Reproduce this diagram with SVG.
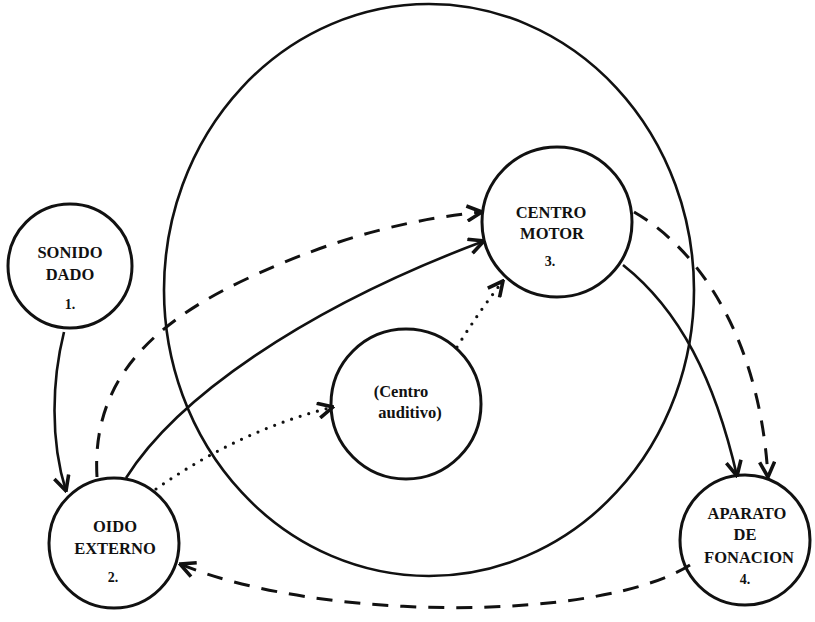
<svg xmlns="http://www.w3.org/2000/svg" width="815" height="622" viewBox="0 0 815 622">
<style>
.node{fill:none;stroke:#111;stroke-width:3}
.big{fill:none;stroke:#111;stroke-width:2.6}
.lbl{font-family:"Liberation Serif","Times New Roman",serif;font-weight:bold;font-size:16.5px;fill:#111;text-anchor:middle}
.num{font-family:"Liberation Serif","Times New Roman",serif;font-weight:bold;font-size:14px;fill:#111;text-anchor:middle}
.aud{font-family:"Liberation Serif","Times New Roman",serif;font-weight:bold;font-size:16.5px;fill:#111;text-anchor:middle}
.solid{fill:none;stroke:#111;stroke-width:2.6;marker-end:url(#arr)}
.dash{fill:none;stroke:#111;stroke-width:3;stroke-dasharray:16 12;marker-end:url(#arr)}
.dot{fill:none;stroke:#111;stroke-width:3.2;stroke-linecap:round;stroke-dasharray:0 9;marker-end:url(#arr)}
</style>
<defs>
<marker id="arr" viewBox="0 0 12 12" refX="11" refY="6" markerWidth="18" markerHeight="18" markerUnits="userSpaceOnUse" orient="auto">
<path d="M1,1 L11,6 L1,11" fill="none" stroke="#111" stroke-width="2.4" stroke-dasharray="none"/>
</marker>
</defs>
<ellipse id="big-circle" class="big" cx="429" cy="290" rx="265" ry="286"/>
<g id="connectors">
<path class="solid" d="M64 332 C52 380 50 440 66 491"/>
<path class="dash" d="M97 477 C92 390 140 330 240 282 S420 218 482 212"/>
<path class="solid" d="M126 478 C175 400 300 310 484 241"/>
<path class="dot" d="M156 489 Q240 430 333 407"/>
<path class="dot" d="M457 347 Q480 310 503 281"/>
<path class="dash" d="M634 212 C700 250 760 340 768 477"/>
<path class="solid" d="M623 265 C680 310 715 380 737 476"/>
<path class="dash" d="M690 565 C600 622 320 622 180 564"/>
</g>
<g id="n1">
<circle class="node" cx="70" cy="266" r="62"/>
<text class="lbl" x="70" y="258">SONIDO</text>
<text class="lbl" x="70" y="280">DADO</text>
<text class="num" x="70" y="309">1.</text>
</g>
<g id="n2">
<circle class="node" cx="114" cy="543" r="65"/>
<text class="lbl" x="115" y="532">OIDO</text>
<text class="lbl" x="115" y="554">EXTERNO</text>
<text class="num" x="113" y="582">2.</text>
</g>
<g id="n3">
<circle class="node" cx="557" cy="222" r="75"/>
<text class="lbl" x="551" y="218">CENTRO</text>
<text class="lbl" x="552" y="239">MOTOR</text>
<text class="num" x="550" y="266">3.</text>
</g>
<g id="n-aud">
<circle class="node" cx="406" cy="404" r="75"/>
<text class="aud" x="401" y="397">(Centro</text>
<text class="aud" x="410" y="418">auditivo)</text>
</g>
<g id="n4">
<circle class="node" cx="745" cy="540" r="65"/>
<text class="lbl" x="747" y="519">APARATO</text>
<text class="lbl" x="745" y="540">DE</text>
<text class="lbl" x="749" y="563">FONACION</text>
<text class="num" x="745" y="584">4.</text>
</g>
</svg>
